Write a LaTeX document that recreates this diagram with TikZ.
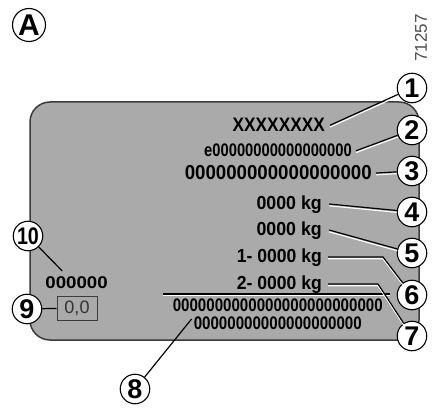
\documentclass[tikz,border=0pt]{standalone}
\usepackage{fontspec}
\usepackage{graphicx}
\setmainfont{Liberation Sans}
\newcommand\platetxt[3]{\scalebox{#2}[1]{\fontsize{#1}{#1}\selectfont\bfseries #3}}
\definecolor{plategray}{HTML}{AAAAAA}
\definecolor{plateedge}{HTML}{3C3C3C}
\tikzset{
  callout/.style={circle, draw=black, line width=1.1pt, fill=white, minimum size=29.5pt, inner sep=0pt,
    font=\bfseries\fontsize{27}{27}\selectfont},
  platetext/.style={anchor=base east, inner sep=0pt},
  leader/.style={line width=1.2pt, draw=black,
    preaction={draw=white, line width=1.1pt, transform canvas={yshift=-1.8pt}}},
  plainleader/.style={line width=1.2pt, draw=black}
}
\begin{document}
\begin{tikzpicture}[x=1pt,y=-1pt]
\useasboundingbox (0,0) rectangle (437,409);
% plate
\draw[fill=plategray, draw=plateedge, line width=1.5pt, rounded corners=20pt] (30,102) rectangle (419,340);
% separator line
\draw[leader] (163,294) -- (390,294);
% texts
\node[platetext] (t1) at (325,132) {\platetxt{19.5}{0.885}{XXXXXXXX}};
\node[platetext] (t2) at (352,157) {\platetxt{18.2}{0.81}{e00000000000000000}};
\node[platetext] (t3) at (372,180) {\platetxt{20.2}{0.925}{000000000000000000}};
\node[platetext] (t4) at (322,210) {\platetxt{18.9}{0.94}{0000 kg}};
\node[platetext] (t5) at (322,236) {\platetxt{18.9}{0.94}{0000 kg}};
\node[platetext] (t6) at (322,263) {\platetxt{18.9}{0.93}{1- 0000 kg}};
\node[platetext] (t7) at (322,290) {\platetxt{18.9}{0.93}{2- 0000 kg}};
\node[platetext] (t8a) at (383,312) {\platetxt{18.2}{0.83}{0000000000000000000000000}};
\node[platetext] (t8b) at (362,329) {\platetxt{18.2}{0.83}{00000000000000000000}};
\node[platetext] (t10) at (108,288) {\platetxt{17}{1.1}{000000}};
\node[draw=plateedge, line width=1pt, minimum width=40pt, minimum height=24pt, inner sep=0pt,
  text=black!80, font=\fontsize{18}{18}\selectfont] (b9) at (77,308) {0,0};
% callouts
\node[callout, minimum size=33pt, font=\bfseries\fontsize{30}{30}\selectfont] (cA) at (29,25) {A};
\node[callout] (c1) at (412,88) {1};
\node[callout] (c2) at (412,130) {2};
\node[callout] (c3) at (412,171) {3};
\node[callout] (c4) at (412,212) {4};
\node[callout] (c5) at (412,253) {5};
\node[callout] (c6) at (412,295) {6};
\node[callout] (c7) at (412,336) {7};
\node[callout] (c8) at (135,389) {8};
\node[callout] (c9) at (27,309) {9};
\node[callout, font=\bfseries\fontsize{24}{24}\selectfont] (c10) at (28,236) {\scalebox{0.82}[1]{10}};
% code number
\node[rotate=90, text=black!70, font=\fontsize{17}{17}\selectfont, inner sep=0pt] (code) at (421,38) {71257};
% leaders
\coordinate (k6) at (383,257);
\coordinate (k7) at (378,284);
\draw[leader] ([xshift=5pt]t1.east) -- (c1);
\draw[leader] ([xshift=4pt]t2.east) -- (c2);
\draw[leader] ([xshift=4pt]t3.east) -- (c3);
\draw[leader] ([shift={(7,-6)}]t4.base east) -- (c4);
\draw[leader] ([shift={(7,-6)}]t5.base east) -- (c5);
\draw[leader] ([shift={(6,-6)}]t6.base east) -- (k6) -- (c6);
\draw[leader] ([shift={(6,-6)}]t7.base east) -- (k7) -- (c7);
\draw[plainleader] ([shift={(-2,-10)}]t8b.base west) -- (c8);
\draw[plainleader] (c9) -- (b9);
\draw[plainleader] ([shift={(17,-5)}]t10.north west) -- (c10);
\end{tikzpicture}
\end{document}
